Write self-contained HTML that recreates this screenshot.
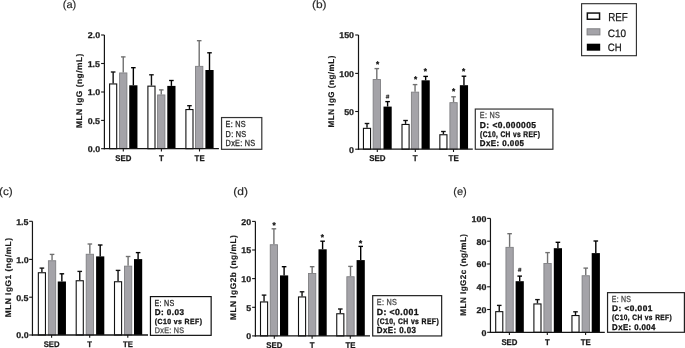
<!DOCTYPE html>
<html><head><meta charset="utf-8"><title>MLN IgG figure</title>
<style>
html,body{margin:0;padding:0;background:#fff;}
body{width:685px;height:348px;overflow:hidden;}
svg{display:block;font-family:"Liberation Sans", sans-serif;text-rendering:geometricPrecision;will-change:transform;}
</style></head>
<body>
<svg width="685" height="348" viewBox="0 0 685 348">
<rect x="0" y="0" width="685" height="348" fill="#fff"/>
<line x1="113.15" y1="71.90" x2="113.15" y2="83.40" stroke="#111" stroke-width="1.4"/>
<line x1="110.85" y1="72.00" x2="115.45" y2="72.00" stroke="#111" stroke-width="1.35"/>
<rect x="109.60" y="83.95" width="7.10" height="64.75" fill="#fff" stroke="#111" stroke-width="1.1"/>
<line x1="123.25" y1="56.80" x2="123.25" y2="72.50" stroke="#707070" stroke-width="1.4"/>
<line x1="120.95" y1="56.90" x2="125.55" y2="56.90" stroke="#707070" stroke-width="1.35"/>
<rect x="119.60" y="72.95" width="7.30" height="75.75" fill="#a4a3a8" stroke="#7f7f82" stroke-width="0.9"/>
<line x1="133.35" y1="67.60" x2="133.35" y2="85.30" stroke="#000" stroke-width="1.4"/>
<line x1="131.05" y1="67.70" x2="135.65" y2="67.70" stroke="#000" stroke-width="1.35"/>
<rect x="129.25" y="85.30" width="8.20" height="63.40" fill="#000"/>
<line x1="151.45" y1="74.70" x2="151.45" y2="85.60" stroke="#111" stroke-width="1.4"/>
<line x1="149.15" y1="74.80" x2="153.75" y2="74.80" stroke="#111" stroke-width="1.35"/>
<rect x="147.90" y="86.15" width="7.10" height="62.55" fill="#fff" stroke="#111" stroke-width="1.1"/>
<line x1="161.25" y1="89.80" x2="161.25" y2="94.50" stroke="#707070" stroke-width="1.4"/>
<line x1="158.95" y1="89.90" x2="163.55" y2="89.90" stroke="#707070" stroke-width="1.35"/>
<rect x="157.60" y="94.95" width="7.30" height="53.75" fill="#a4a3a8" stroke="#7f7f82" stroke-width="0.9"/>
<line x1="171.40" y1="80.40" x2="171.40" y2="85.90" stroke="#000" stroke-width="1.4"/>
<line x1="169.10" y1="80.50" x2="173.70" y2="80.50" stroke="#000" stroke-width="1.35"/>
<rect x="167.30" y="85.90" width="8.20" height="62.80" fill="#000"/>
<line x1="189.45" y1="105.60" x2="189.45" y2="109.00" stroke="#111" stroke-width="1.4"/>
<line x1="187.15" y1="105.70" x2="191.75" y2="105.70" stroke="#111" stroke-width="1.35"/>
<rect x="185.90" y="109.55" width="7.10" height="39.15" fill="#fff" stroke="#111" stroke-width="1.1"/>
<line x1="199.20" y1="40.60" x2="199.20" y2="65.90" stroke="#707070" stroke-width="1.4"/>
<line x1="196.90" y1="40.70" x2="201.50" y2="40.70" stroke="#707070" stroke-width="1.35"/>
<rect x="195.55" y="66.35" width="7.30" height="82.35" fill="#a4a3a8" stroke="#7f7f82" stroke-width="0.9"/>
<line x1="209.50" y1="52.70" x2="209.50" y2="70.00" stroke="#000" stroke-width="1.4"/>
<line x1="207.20" y1="52.80" x2="211.80" y2="52.80" stroke="#000" stroke-width="1.35"/>
<rect x="205.40" y="70.00" width="8.20" height="78.70" fill="#000"/>
<line x1="104.40" y1="35.00" x2="104.40" y2="149.30" stroke="#151515" stroke-width="1.2"/>
<line x1="103.80" y1="148.70" x2="218.90" y2="148.70" stroke="#151515" stroke-width="1.3"/>
<line x1="101.10" y1="35.00" x2="104.40" y2="35.00" stroke="#151515" stroke-width="1.1"/>
<text transform="translate(87.78,38.32) scale(1.060,1)" font-size="8.40" font-weight="bold" fill="#1a1a1a" stroke="#1a1a1a" stroke-width="0.25">2.0</text>
<line x1="101.10" y1="63.50" x2="104.40" y2="63.50" stroke="#151515" stroke-width="1.1"/>
<text transform="translate(87.67,66.82) scale(1.060,1)" font-size="8.40" font-weight="bold" fill="#1a1a1a" stroke="#1a1a1a" stroke-width="0.25">1.5</text>
<line x1="101.10" y1="92.00" x2="104.40" y2="92.00" stroke="#151515" stroke-width="1.1"/>
<text transform="translate(87.78,95.32) scale(1.060,1)" font-size="8.40" font-weight="bold" fill="#1a1a1a" stroke="#1a1a1a" stroke-width="0.25">1.0</text>
<line x1="101.10" y1="120.40" x2="104.40" y2="120.40" stroke="#151515" stroke-width="1.1"/>
<text transform="translate(87.67,123.72) scale(1.060,1)" font-size="8.40" font-weight="bold" fill="#1a1a1a" stroke="#1a1a1a" stroke-width="0.25">0.5</text>
<line x1="101.10" y1="148.70" x2="104.40" y2="148.70" stroke="#151515" stroke-width="1.1"/>
<text transform="translate(87.78,152.02) scale(1.060,1)" font-size="8.40" font-weight="bold" fill="#1a1a1a" stroke="#1a1a1a" stroke-width="0.25">0.0</text>
<line x1="123.30" y1="148.70" x2="123.30" y2="151.50" stroke="#151515" stroke-width="1.1"/>
<line x1="161.40" y1="148.70" x2="161.40" y2="151.50" stroke="#151515" stroke-width="1.1"/>
<line x1="199.50" y1="148.70" x2="199.50" y2="151.50" stroke="#151515" stroke-width="1.1"/>
<text transform="translate(115.29,160.92) scale(0.940,1)" font-size="8.33" font-weight="bold" fill="#1a1a1a" stroke="#1a1a1a" stroke-width="0.25">SED</text>
<text transform="translate(159.01,160.92) scale(0.940,1)" font-size="8.33" font-weight="bold" fill="#1a1a1a" stroke="#1a1a1a" stroke-width="0.25">T</text>
<text transform="translate(194.61,160.92) scale(0.940,1)" font-size="8.33" font-weight="bold" fill="#1a1a1a" stroke="#1a1a1a" stroke-width="0.25">TE</text>
<line x1="367.00" y1="123.40" x2="367.00" y2="127.80" stroke="#111" stroke-width="1.4"/>
<line x1="364.70" y1="123.50" x2="369.30" y2="123.50" stroke="#111" stroke-width="1.35"/>
<rect x="363.45" y="128.35" width="7.10" height="20.85" fill="#fff" stroke="#111" stroke-width="1.1"/>
<line x1="376.80" y1="68.50" x2="376.80" y2="79.10" stroke="#707070" stroke-width="1.4"/>
<line x1="374.50" y1="68.60" x2="379.10" y2="68.60" stroke="#707070" stroke-width="1.35"/>
<rect x="373.15" y="79.55" width="7.30" height="69.65" fill="#a4a3a8" stroke="#7f7f82" stroke-width="0.9"/>
<line x1="387.60" y1="101.50" x2="387.60" y2="106.60" stroke="#000" stroke-width="1.4"/>
<line x1="385.30" y1="101.60" x2="389.90" y2="101.60" stroke="#000" stroke-width="1.35"/>
<rect x="383.50" y="106.60" width="8.20" height="42.60" fill="#000"/>
<line x1="405.55" y1="120.40" x2="405.55" y2="123.90" stroke="#111" stroke-width="1.4"/>
<line x1="403.25" y1="120.50" x2="407.85" y2="120.50" stroke="#111" stroke-width="1.35"/>
<rect x="402.00" y="124.45" width="7.10" height="24.75" fill="#fff" stroke="#111" stroke-width="1.1"/>
<line x1="415.05" y1="84.50" x2="415.05" y2="91.70" stroke="#707070" stroke-width="1.4"/>
<line x1="412.75" y1="84.60" x2="417.35" y2="84.60" stroke="#707070" stroke-width="1.35"/>
<rect x="411.40" y="92.15" width="7.30" height="57.05" fill="#a4a3a8" stroke="#7f7f82" stroke-width="0.9"/>
<line x1="425.65" y1="76.30" x2="425.65" y2="80.30" stroke="#000" stroke-width="1.4"/>
<line x1="423.35" y1="76.40" x2="427.95" y2="76.40" stroke="#000" stroke-width="1.35"/>
<rect x="421.55" y="80.30" width="8.20" height="68.90" fill="#000"/>
<line x1="443.40" y1="131.40" x2="443.40" y2="134.20" stroke="#111" stroke-width="1.4"/>
<line x1="441.10" y1="131.50" x2="445.70" y2="131.50" stroke="#111" stroke-width="1.35"/>
<rect x="439.85" y="134.75" width="7.10" height="14.45" fill="#fff" stroke="#111" stroke-width="1.1"/>
<line x1="453.55" y1="96.70" x2="453.55" y2="102.20" stroke="#707070" stroke-width="1.4"/>
<line x1="451.25" y1="96.80" x2="455.85" y2="96.80" stroke="#707070" stroke-width="1.35"/>
<rect x="449.90" y="102.65" width="7.30" height="46.55" fill="#a4a3a8" stroke="#7f7f82" stroke-width="0.9"/>
<line x1="463.95" y1="76.10" x2="463.95" y2="85.20" stroke="#000" stroke-width="1.4"/>
<line x1="461.65" y1="76.20" x2="466.25" y2="76.20" stroke="#000" stroke-width="1.35"/>
<rect x="459.85" y="85.20" width="8.20" height="64.00" fill="#000"/>
<line x1="358.50" y1="35.00" x2="358.50" y2="149.80" stroke="#151515" stroke-width="1.2"/>
<line x1="357.90" y1="149.20" x2="472.80" y2="149.20" stroke="#151515" stroke-width="1.3"/>
<line x1="355.20" y1="35.00" x2="358.50" y2="35.00" stroke="#151515" stroke-width="1.1"/>
<text transform="translate(339.21,38.32) scale(1.060,1)" font-size="8.40" font-weight="bold" fill="#1a1a1a" stroke="#1a1a1a" stroke-width="0.25">150</text>
<line x1="355.20" y1="73.40" x2="358.50" y2="73.40" stroke="#151515" stroke-width="1.1"/>
<text transform="translate(339.21,76.72) scale(1.060,1)" font-size="8.40" font-weight="bold" fill="#1a1a1a" stroke="#1a1a1a" stroke-width="0.25">100</text>
<line x1="355.20" y1="111.50" x2="358.50" y2="111.50" stroke="#151515" stroke-width="1.1"/>
<text transform="translate(344.17,114.82) scale(1.060,1)" font-size="8.40" font-weight="bold" fill="#1a1a1a" stroke="#1a1a1a" stroke-width="0.25">50</text>
<line x1="355.20" y1="149.20" x2="358.50" y2="149.20" stroke="#151515" stroke-width="1.1"/>
<text transform="translate(349.11,152.52) scale(1.060,1)" font-size="8.40" font-weight="bold" fill="#1a1a1a" stroke="#1a1a1a" stroke-width="0.25">0</text>
<line x1="377.30" y1="149.20" x2="377.30" y2="152.00" stroke="#151515" stroke-width="1.1"/>
<line x1="415.30" y1="149.20" x2="415.30" y2="152.00" stroke="#151515" stroke-width="1.1"/>
<line x1="453.50" y1="149.20" x2="453.50" y2="152.00" stroke="#151515" stroke-width="1.1"/>
<text transform="translate(369.15,161.22) scale(0.940,1)" font-size="8.47" font-weight="bold" fill="#1a1a1a" stroke="#1a1a1a" stroke-width="0.25">SED</text>
<text transform="translate(412.87,161.22) scale(0.940,1)" font-size="8.47" font-weight="bold" fill="#1a1a1a" stroke="#1a1a1a" stroke-width="0.25">T</text>
<text transform="translate(448.53,161.22) scale(0.940,1)" font-size="8.47" font-weight="bold" fill="#1a1a1a" stroke="#1a1a1a" stroke-width="0.25">TE</text>
<text transform="translate(375.90,66.51) scale(1.000,1)" font-size="8.20" font-weight="bold" fill="#111" stroke="#111" stroke-width="0.3">*</text>
<path d="M387.20,94.60 L386.70,98.60 M388.60,94.60 L388.10,98.60 M385.90,95.90 H389.40 M385.70,97.40 H389.20" stroke="#262626" stroke-width="0.8" fill="none"/>
<text transform="translate(414.00,81.56) scale(1.000,1)" font-size="8.20" font-weight="bold" fill="#111" stroke="#111" stroke-width="0.3">*</text>
<text transform="translate(423.80,73.71) scale(1.000,1)" font-size="8.20" font-weight="bold" fill="#111" stroke="#111" stroke-width="0.3">*</text>
<text transform="translate(451.90,94.31) scale(1.000,1)" font-size="8.20" font-weight="bold" fill="#111" stroke="#111" stroke-width="0.3">*</text>
<text transform="translate(461.90,73.51) scale(1.000,1)" font-size="8.20" font-weight="bold" fill="#111" stroke="#111" stroke-width="0.3">*</text>
<line x1="41.90" y1="268.00" x2="41.90" y2="272.20" stroke="#111" stroke-width="1.4"/>
<line x1="39.60" y1="268.10" x2="44.20" y2="268.10" stroke="#111" stroke-width="1.35"/>
<rect x="38.35" y="272.75" width="7.10" height="62.25" fill="#fff" stroke="#111" stroke-width="1.1"/>
<line x1="52.05" y1="254.30" x2="52.05" y2="260.30" stroke="#707070" stroke-width="1.4"/>
<line x1="49.75" y1="254.40" x2="54.35" y2="254.40" stroke="#707070" stroke-width="1.35"/>
<rect x="48.40" y="260.75" width="7.30" height="74.25" fill="#a4a3a8" stroke="#7f7f82" stroke-width="0.9"/>
<line x1="61.85" y1="273.70" x2="61.85" y2="281.50" stroke="#000" stroke-width="1.4"/>
<line x1="59.55" y1="273.80" x2="64.15" y2="273.80" stroke="#000" stroke-width="1.35"/>
<rect x="57.75" y="281.50" width="8.20" height="53.50" fill="#000"/>
<line x1="79.75" y1="271.30" x2="79.75" y2="280.20" stroke="#111" stroke-width="1.4"/>
<line x1="77.45" y1="271.40" x2="82.05" y2="271.40" stroke="#111" stroke-width="1.35"/>
<rect x="76.20" y="280.75" width="7.10" height="54.25" fill="#fff" stroke="#111" stroke-width="1.1"/>
<line x1="89.85" y1="243.90" x2="89.85" y2="253.80" stroke="#707070" stroke-width="1.4"/>
<line x1="87.55" y1="244.00" x2="92.15" y2="244.00" stroke="#707070" stroke-width="1.35"/>
<rect x="86.20" y="254.25" width="7.30" height="80.75" fill="#a4a3a8" stroke="#7f7f82" stroke-width="0.9"/>
<line x1="100.20" y1="244.90" x2="100.20" y2="256.40" stroke="#000" stroke-width="1.4"/>
<line x1="97.90" y1="245.00" x2="102.50" y2="245.00" stroke="#000" stroke-width="1.35"/>
<rect x="96.10" y="256.40" width="8.20" height="78.60" fill="#000"/>
<line x1="118.05" y1="270.30" x2="118.05" y2="281.20" stroke="#111" stroke-width="1.4"/>
<line x1="115.75" y1="270.40" x2="120.35" y2="270.40" stroke="#111" stroke-width="1.35"/>
<rect x="114.50" y="281.75" width="7.10" height="53.25" fill="#fff" stroke="#111" stroke-width="1.1"/>
<line x1="128.10" y1="256.40" x2="128.10" y2="265.70" stroke="#707070" stroke-width="1.4"/>
<line x1="125.80" y1="256.50" x2="130.40" y2="256.50" stroke="#707070" stroke-width="1.35"/>
<rect x="124.45" y="266.15" width="7.30" height="68.85" fill="#a4a3a8" stroke="#7f7f82" stroke-width="0.9"/>
<line x1="138.10" y1="252.50" x2="138.10" y2="259.10" stroke="#000" stroke-width="1.4"/>
<line x1="135.80" y1="252.60" x2="140.40" y2="252.60" stroke="#000" stroke-width="1.35"/>
<rect x="134.00" y="259.10" width="8.20" height="75.90" fill="#000"/>
<line x1="32.45" y1="221.30" x2="32.45" y2="335.60" stroke="#151515" stroke-width="1.2"/>
<line x1="31.85" y1="335.00" x2="148.00" y2="335.00" stroke="#151515" stroke-width="1.3"/>
<line x1="29.15" y1="221.30" x2="32.45" y2="221.30" stroke="#151515" stroke-width="1.1"/>
<text transform="translate(16.17,224.62) scale(1.060,1)" font-size="8.40" font-weight="bold" fill="#1a1a1a" stroke="#1a1a1a" stroke-width="0.25">1.5</text>
<line x1="29.15" y1="259.40" x2="32.45" y2="259.40" stroke="#151515" stroke-width="1.1"/>
<text transform="translate(16.28,262.72) scale(1.060,1)" font-size="8.40" font-weight="bold" fill="#1a1a1a" stroke="#1a1a1a" stroke-width="0.25">1.0</text>
<line x1="29.15" y1="297.20" x2="32.45" y2="297.20" stroke="#151515" stroke-width="1.1"/>
<text transform="translate(16.17,300.52) scale(1.060,1)" font-size="8.40" font-weight="bold" fill="#1a1a1a" stroke="#1a1a1a" stroke-width="0.25">0.5</text>
<line x1="29.15" y1="335.00" x2="32.45" y2="335.00" stroke="#151515" stroke-width="1.1"/>
<text transform="translate(16.28,338.32) scale(1.060,1)" font-size="8.40" font-weight="bold" fill="#1a1a1a" stroke="#1a1a1a" stroke-width="0.25">0.0</text>
<line x1="51.60" y1="335.00" x2="51.60" y2="337.80" stroke="#151515" stroke-width="1.1"/>
<line x1="89.70" y1="335.00" x2="89.70" y2="337.80" stroke="#151515" stroke-width="1.1"/>
<line x1="127.80" y1="335.00" x2="127.80" y2="337.80" stroke="#151515" stroke-width="1.1"/>
<text transform="translate(43.73,347.22) scale(0.940,1)" font-size="8.19" font-weight="bold" fill="#1a1a1a" stroke="#1a1a1a" stroke-width="0.25">SED</text>
<text transform="translate(87.35,347.22) scale(0.940,1)" font-size="8.19" font-weight="bold" fill="#1a1a1a" stroke="#1a1a1a" stroke-width="0.25">T</text>
<text transform="translate(123.00,347.22) scale(0.940,1)" font-size="8.19" font-weight="bold" fill="#1a1a1a" stroke="#1a1a1a" stroke-width="0.25">TE</text>
<line x1="264.05" y1="295.00" x2="264.05" y2="301.40" stroke="#111" stroke-width="1.4"/>
<line x1="261.75" y1="295.10" x2="266.35" y2="295.10" stroke="#111" stroke-width="1.35"/>
<rect x="260.50" y="301.95" width="7.10" height="33.95" fill="#fff" stroke="#111" stroke-width="1.1"/>
<line x1="273.90" y1="228.70" x2="273.90" y2="244.30" stroke="#707070" stroke-width="1.4"/>
<line x1="271.60" y1="228.80" x2="276.20" y2="228.80" stroke="#707070" stroke-width="1.35"/>
<rect x="270.25" y="244.75" width="7.30" height="91.15" fill="#a4a3a8" stroke="#7f7f82" stroke-width="0.9"/>
<line x1="284.10" y1="266.60" x2="284.10" y2="275.40" stroke="#000" stroke-width="1.4"/>
<line x1="281.80" y1="266.70" x2="286.40" y2="266.70" stroke="#000" stroke-width="1.35"/>
<rect x="280.00" y="275.40" width="8.20" height="60.50" fill="#000"/>
<line x1="302.05" y1="291.70" x2="302.05" y2="296.40" stroke="#111" stroke-width="1.4"/>
<line x1="299.75" y1="291.80" x2="304.35" y2="291.80" stroke="#111" stroke-width="1.35"/>
<rect x="298.50" y="296.95" width="7.10" height="38.95" fill="#fff" stroke="#111" stroke-width="1.1"/>
<line x1="312.15" y1="266.60" x2="312.15" y2="273.10" stroke="#707070" stroke-width="1.4"/>
<line x1="309.85" y1="266.70" x2="314.45" y2="266.70" stroke="#707070" stroke-width="1.35"/>
<rect x="308.50" y="273.55" width="7.30" height="62.35" fill="#a4a3a8" stroke="#7f7f82" stroke-width="0.9"/>
<line x1="322.60" y1="241.10" x2="322.60" y2="249.30" stroke="#000" stroke-width="1.4"/>
<line x1="320.30" y1="241.20" x2="324.90" y2="241.20" stroke="#000" stroke-width="1.35"/>
<rect x="318.50" y="249.30" width="8.20" height="86.60" fill="#000"/>
<line x1="340.30" y1="308.90" x2="340.30" y2="313.20" stroke="#111" stroke-width="1.4"/>
<line x1="338.00" y1="309.00" x2="342.60" y2="309.00" stroke="#111" stroke-width="1.35"/>
<rect x="336.75" y="313.75" width="7.10" height="22.15" fill="#fff" stroke="#111" stroke-width="1.1"/>
<line x1="350.50" y1="266.30" x2="350.50" y2="276.30" stroke="#707070" stroke-width="1.4"/>
<line x1="348.20" y1="266.40" x2="352.80" y2="266.40" stroke="#707070" stroke-width="1.35"/>
<rect x="346.85" y="276.75" width="7.30" height="59.15" fill="#a4a3a8" stroke="#7f7f82" stroke-width="0.9"/>
<line x1="360.70" y1="246.30" x2="360.70" y2="260.10" stroke="#000" stroke-width="1.4"/>
<line x1="358.40" y1="246.40" x2="363.00" y2="246.40" stroke="#000" stroke-width="1.35"/>
<rect x="356.60" y="260.10" width="8.20" height="75.80" fill="#000"/>
<line x1="255.40" y1="221.40" x2="255.40" y2="336.50" stroke="#151515" stroke-width="1.2"/>
<line x1="254.80" y1="335.90" x2="370.00" y2="335.90" stroke="#151515" stroke-width="1.3"/>
<line x1="252.10" y1="221.40" x2="255.40" y2="221.40" stroke="#151515" stroke-width="1.1"/>
<text transform="translate(241.37,224.72) scale(1.060,1)" font-size="8.40" font-weight="bold" fill="#1a1a1a" stroke="#1a1a1a" stroke-width="0.25">20</text>
<line x1="252.10" y1="250.00" x2="255.40" y2="250.00" stroke="#151515" stroke-width="1.1"/>
<text transform="translate(241.26,253.32) scale(1.060,1)" font-size="8.40" font-weight="bold" fill="#1a1a1a" stroke="#1a1a1a" stroke-width="0.25">15</text>
<line x1="252.10" y1="278.60" x2="255.40" y2="278.60" stroke="#151515" stroke-width="1.1"/>
<text transform="translate(241.37,281.92) scale(1.060,1)" font-size="8.40" font-weight="bold" fill="#1a1a1a" stroke="#1a1a1a" stroke-width="0.25">10</text>
<line x1="252.10" y1="307.30" x2="255.40" y2="307.30" stroke="#151515" stroke-width="1.1"/>
<text transform="translate(246.20,310.62) scale(1.060,1)" font-size="8.40" font-weight="bold" fill="#1a1a1a" stroke="#1a1a1a" stroke-width="0.25">5</text>
<line x1="252.10" y1="335.90" x2="255.40" y2="335.90" stroke="#151515" stroke-width="1.1"/>
<text transform="translate(246.31,339.22) scale(1.060,1)" font-size="8.40" font-weight="bold" fill="#1a1a1a" stroke="#1a1a1a" stroke-width="0.25">0</text>
<line x1="274.30" y1="335.90" x2="274.30" y2="338.70" stroke="#151515" stroke-width="1.1"/>
<line x1="312.10" y1="335.90" x2="312.10" y2="338.70" stroke="#151515" stroke-width="1.1"/>
<line x1="350.30" y1="335.90" x2="350.30" y2="338.70" stroke="#151515" stroke-width="1.1"/>
<text transform="translate(266.29,347.92) scale(0.940,1)" font-size="8.33" font-weight="bold" fill="#1a1a1a" stroke="#1a1a1a" stroke-width="0.25">SED</text>
<text transform="translate(309.71,347.92) scale(0.940,1)" font-size="8.33" font-weight="bold" fill="#1a1a1a" stroke="#1a1a1a" stroke-width="0.25">T</text>
<text transform="translate(345.41,347.92) scale(0.940,1)" font-size="8.33" font-weight="bold" fill="#1a1a1a" stroke="#1a1a1a" stroke-width="0.25">TE</text>
<text transform="translate(272.50,227.61) scale(1.000,1)" font-size="8.20" font-weight="bold" fill="#111" stroke="#111" stroke-width="0.3">*</text>
<text transform="translate(320.70,240.01) scale(1.000,1)" font-size="8.20" font-weight="bold" fill="#111" stroke="#111" stroke-width="0.3">*</text>
<text transform="translate(359.00,245.81) scale(1.000,1)" font-size="8.20" font-weight="bold" fill="#111" stroke="#111" stroke-width="0.3">*</text>
<line x1="499.25" y1="305.30" x2="499.25" y2="311.10" stroke="#111" stroke-width="1.4"/>
<line x1="496.95" y1="305.40" x2="501.55" y2="305.40" stroke="#111" stroke-width="1.35"/>
<rect x="495.70" y="311.65" width="7.10" height="20.65" fill="#fff" stroke="#111" stroke-width="1.1"/>
<line x1="509.60" y1="233.60" x2="509.60" y2="246.90" stroke="#707070" stroke-width="1.4"/>
<line x1="507.30" y1="233.70" x2="511.90" y2="233.70" stroke="#707070" stroke-width="1.35"/>
<rect x="505.95" y="247.35" width="7.30" height="84.95" fill="#a4a3a8" stroke="#7f7f82" stroke-width="0.9"/>
<line x1="519.70" y1="276.00" x2="519.70" y2="281.20" stroke="#000" stroke-width="1.4"/>
<line x1="517.40" y1="276.10" x2="522.00" y2="276.10" stroke="#000" stroke-width="1.35"/>
<rect x="515.60" y="281.20" width="8.20" height="51.10" fill="#000"/>
<line x1="537.45" y1="299.50" x2="537.45" y2="303.40" stroke="#111" stroke-width="1.4"/>
<line x1="535.15" y1="299.60" x2="539.75" y2="299.60" stroke="#111" stroke-width="1.35"/>
<rect x="533.90" y="303.95" width="7.10" height="28.35" fill="#fff" stroke="#111" stroke-width="1.1"/>
<line x1="547.55" y1="252.50" x2="547.55" y2="263.00" stroke="#707070" stroke-width="1.4"/>
<line x1="545.25" y1="252.60" x2="549.85" y2="252.60" stroke="#707070" stroke-width="1.35"/>
<rect x="543.90" y="263.45" width="7.30" height="68.85" fill="#a4a3a8" stroke="#7f7f82" stroke-width="0.9"/>
<line x1="557.90" y1="242.20" x2="557.90" y2="248.20" stroke="#000" stroke-width="1.4"/>
<line x1="555.60" y1="242.30" x2="560.20" y2="242.30" stroke="#000" stroke-width="1.35"/>
<rect x="553.80" y="248.20" width="8.20" height="84.10" fill="#000"/>
<line x1="575.50" y1="311.70" x2="575.50" y2="315.00" stroke="#111" stroke-width="1.4"/>
<line x1="573.20" y1="311.80" x2="577.80" y2="311.80" stroke="#111" stroke-width="1.35"/>
<rect x="571.95" y="315.55" width="7.10" height="16.75" fill="#fff" stroke="#111" stroke-width="1.1"/>
<line x1="585.75" y1="268.00" x2="585.75" y2="275.30" stroke="#707070" stroke-width="1.4"/>
<line x1="583.45" y1="268.10" x2="588.05" y2="268.10" stroke="#707070" stroke-width="1.35"/>
<rect x="582.10" y="275.75" width="7.30" height="56.55" fill="#a4a3a8" stroke="#7f7f82" stroke-width="0.9"/>
<line x1="595.80" y1="240.90" x2="595.80" y2="253.10" stroke="#000" stroke-width="1.4"/>
<line x1="593.50" y1="241.00" x2="598.10" y2="241.00" stroke="#000" stroke-width="1.35"/>
<rect x="591.70" y="253.10" width="8.20" height="79.20" fill="#000"/>
<line x1="490.45" y1="218.40" x2="490.45" y2="332.90" stroke="#151515" stroke-width="1.2"/>
<line x1="489.85" y1="332.30" x2="604.80" y2="332.30" stroke="#151515" stroke-width="1.3"/>
<line x1="487.15" y1="218.40" x2="490.45" y2="218.40" stroke="#151515" stroke-width="1.1"/>
<text transform="translate(471.61,221.72) scale(1.060,1)" font-size="8.40" font-weight="bold" fill="#1a1a1a" stroke="#1a1a1a" stroke-width="0.25">100</text>
<line x1="487.15" y1="241.20" x2="490.45" y2="241.20" stroke="#151515" stroke-width="1.1"/>
<text transform="translate(476.57,244.52) scale(1.060,1)" font-size="8.40" font-weight="bold" fill="#1a1a1a" stroke="#1a1a1a" stroke-width="0.25">80</text>
<line x1="487.15" y1="264.00" x2="490.45" y2="264.00" stroke="#151515" stroke-width="1.1"/>
<text transform="translate(476.57,267.32) scale(1.060,1)" font-size="8.40" font-weight="bold" fill="#1a1a1a" stroke="#1a1a1a" stroke-width="0.25">60</text>
<line x1="487.15" y1="286.80" x2="490.45" y2="286.80" stroke="#151515" stroke-width="1.1"/>
<text transform="translate(476.57,290.12) scale(1.060,1)" font-size="8.40" font-weight="bold" fill="#1a1a1a" stroke="#1a1a1a" stroke-width="0.25">40</text>
<line x1="487.15" y1="309.50" x2="490.45" y2="309.50" stroke="#151515" stroke-width="1.1"/>
<text transform="translate(476.57,312.82) scale(1.060,1)" font-size="8.40" font-weight="bold" fill="#1a1a1a" stroke="#1a1a1a" stroke-width="0.25">20</text>
<line x1="487.15" y1="332.30" x2="490.45" y2="332.30" stroke="#151515" stroke-width="1.1"/>
<text transform="translate(481.51,335.62) scale(1.060,1)" font-size="8.40" font-weight="bold" fill="#1a1a1a" stroke="#1a1a1a" stroke-width="0.25">0</text>
<line x1="509.40" y1="332.30" x2="509.40" y2="335.10" stroke="#151515" stroke-width="1.1"/>
<line x1="547.30" y1="332.30" x2="547.30" y2="335.10" stroke="#151515" stroke-width="1.1"/>
<line x1="585.60" y1="332.30" x2="585.60" y2="335.10" stroke="#151515" stroke-width="1.1"/>
<text transform="translate(501.39,344.52) scale(0.940,1)" font-size="8.33" font-weight="bold" fill="#1a1a1a" stroke="#1a1a1a" stroke-width="0.25">SED</text>
<text transform="translate(544.91,344.52) scale(0.940,1)" font-size="8.33" font-weight="bold" fill="#1a1a1a" stroke="#1a1a1a" stroke-width="0.25">T</text>
<text transform="translate(580.71,344.52) scale(0.940,1)" font-size="8.33" font-weight="bold" fill="#1a1a1a" stroke="#1a1a1a" stroke-width="0.25">TE</text>
<path d="M519.30,267.80 L518.80,271.80 M520.70,267.80 L520.20,271.80 M518.00,269.10 H521.50 M517.80,270.60 H521.30" stroke="#262626" stroke-width="0.8" fill="none"/>
<text transform="translate(81.90,128.06) rotate(-90) scale(1.020,1)" font-size="8.20" font-weight="bold" fill="#1a1a1a" stroke="#1a1a1a" stroke-width="0.2" letter-spacing="0.5">MLN IgG (ng/mL)</text>
<text transform="translate(333.50,127.44) rotate(-90) scale(0.984,1)" font-size="8.20" font-weight="bold" fill="#1a1a1a" stroke="#1a1a1a" stroke-width="0.2" letter-spacing="0.5">MLN IgG (ng/mL)</text>
<text transform="translate(10.60,317.26) rotate(-90) scale(1.016,1)" font-size="8.20" font-weight="bold" fill="#1a1a1a" stroke="#1a1a1a" stroke-width="0.2" letter-spacing="0.5">MLN IgG1 (ng/mL)</text>
<text transform="translate(235.80,320.06) rotate(-90) scale(1.016,1)" font-size="8.20" font-weight="bold" fill="#1a1a1a" stroke="#1a1a1a" stroke-width="0.2" letter-spacing="0.5">MLN IgG2b (ng/mL)</text>
<text transform="translate(465.80,315.74) rotate(-90) scale(0.984,1)" font-size="8.20" font-weight="bold" fill="#1a1a1a" stroke="#1a1a1a" stroke-width="0.2" letter-spacing="0.5">MLN IgG2c (ng/mL)</text>
<text transform="translate(62.71,8.00) scale(1.040,1)" font-size="10.60" font-weight="normal" fill="#2a2a2a" stroke="#2a2a2a" stroke-width="0.15">(a)</text>
<text transform="translate(311.95,8.00) scale(1.126,1)" font-size="10.60" font-weight="normal" fill="#2a2a2a" stroke="#2a2a2a" stroke-width="0.15">(b)</text>
<text transform="translate(-1.04,194.90) scale(1.116,1)" font-size="10.60" font-weight="normal" fill="#2a2a2a" stroke="#2a2a2a" stroke-width="0.15">(c)</text>
<text transform="translate(233.35,194.90) scale(1.135,1)" font-size="10.60" font-weight="normal" fill="#2a2a2a" stroke="#2a2a2a" stroke-width="0.15">(d)</text>
<text transform="translate(453.21,194.90) scale(1.049,1)" font-size="10.60" font-weight="normal" fill="#2a2a2a" stroke="#2a2a2a" stroke-width="0.15">(e)</text>
<rect x="221.55" y="117.55" width="40.25" height="31.75" fill="#fff" stroke="#333" stroke-width="1.2"/>
<text transform="translate(225.60,127.01) scale(0.837,1)" font-size="8.76" font-weight="normal" fill="#2a2a2a" stroke="#2a2a2a" stroke-width="0.3" letter-spacing="0.3">E: NS</text>
<text transform="translate(225.60,136.51) scale(0.850,1)" font-size="8.62" font-weight="normal" fill="#2a2a2a" stroke="#2a2a2a" stroke-width="0.3" letter-spacing="0.3">D: NS</text>
<text transform="translate(225.59,146.21) scale(0.825,1)" font-size="8.90" font-weight="normal" fill="#2a2a2a" stroke="#2a2a2a" stroke-width="0.3" letter-spacing="0.3">DxE: NS</text>
<rect x="475.30" y="109.05" width="77.60" height="40.20" fill="#fff" stroke="#333" stroke-width="1.2"/>
<text transform="translate(479.80,118.41) scale(0.828,1)" font-size="8.76" font-weight="normal" fill="#4a4a4a" stroke="#4a4a4a" stroke-width="0.3" letter-spacing="0.3">E: NS</text>
<text transform="translate(479.83,127.91) scale(0.979,1)" font-size="8.62" font-weight="bold" fill="#111" stroke="#111" stroke-width="0.3" letter-spacing="0.45">D: &lt;0.000005</text>
<text transform="translate(480.07,136.92) scale(0.815,1)" font-size="8.19" font-weight="bold" fill="#111" stroke="#111" stroke-width="0.3" letter-spacing="0.45">(C10, CH vs REF)</text>
<text transform="translate(479.86,146.42) scale(0.954,1)" font-size="8.33" font-weight="bold" fill="#111" stroke="#111" stroke-width="0.3" letter-spacing="0.45">DxE: 0.005</text>
<rect x="150.45" y="296.60" width="60.70" height="38.75" fill="#fff" stroke="#111" stroke-width="1.2"/>
<text transform="translate(154.61,305.71) scale(0.811,1)" font-size="8.76" font-weight="normal" fill="#2a2a2a" stroke="#2a2a2a" stroke-width="0.3" letter-spacing="0.3">E: NS</text>
<text transform="translate(154.65,315.22) scale(0.977,1)" font-size="8.33" font-weight="bold" fill="#111" stroke="#111" stroke-width="0.3" letter-spacing="0.45">D: 0.03</text>
<text transform="translate(154.86,324.03) scale(0.921,1)" font-size="7.49" font-weight="bold" fill="#111" stroke="#111" stroke-width="0.3" letter-spacing="0.45">(C10 vs REF)</text>
<text transform="translate(154.81,333.42) scale(0.895,1)" font-size="8.05" font-weight="normal" fill="#4a4a4a" stroke="#4a4a4a" stroke-width="0.3" letter-spacing="0.3">DxE: NS</text>
<rect x="372.70" y="295.65" width="68.95" height="40.30" fill="#fff" stroke="#222" stroke-width="1.2"/>
<text transform="translate(376.80,304.71) scale(0.828,1)" font-size="8.76" font-weight="normal" fill="#4a4a4a" stroke="#4a4a4a" stroke-width="0.3" letter-spacing="0.3">E: NS</text>
<text transform="translate(376.71,315.01) scale(0.977,1)" font-size="8.90" font-weight="bold" fill="#111" stroke="#111" stroke-width="0.3" letter-spacing="0.45">D: &lt;0.001</text>
<text transform="translate(376.96,324.22) scale(0.852,1)" font-size="8.05" font-weight="bold" fill="#111" stroke="#111" stroke-width="0.3" letter-spacing="0.45">(C10, CH vs REF)</text>
<text transform="translate(376.76,333.11) scale(0.911,1)" font-size="8.76" font-weight="bold" fill="#111" stroke="#111" stroke-width="0.3" letter-spacing="0.45">DxE: 0.03</text>
<rect x="607.55" y="292.65" width="76.85" height="39.65" fill="#fff" stroke="#222" stroke-width="1.2"/>
<text transform="translate(611.82,301.91) scale(0.798,1)" font-size="8.76" font-weight="normal" fill="#4a4a4a" stroke="#4a4a4a" stroke-width="0.3" letter-spacing="0.3">E: NS</text>
<text transform="translate(612.04,311.22) scale(1.029,1)" font-size="8.05" font-weight="bold" fill="#111" stroke="#111" stroke-width="0.3" letter-spacing="0.45">D: &lt;0.001</text>
<text transform="translate(611.97,320.32) scale(0.851,1)" font-size="7.77" font-weight="bold" fill="#111" stroke="#111" stroke-width="0.3" letter-spacing="0.45">(C10, CH vs REF)</text>
<text transform="translate(612.07,329.62) scale(0.939,1)" font-size="8.33" font-weight="bold" fill="#111" stroke="#111" stroke-width="0.3" letter-spacing="0.45">DxE: 0.004</text>
<rect x="581.60" y="3.70" width="54.80" height="52.00" fill="#fff" stroke="#2a2a2a" stroke-width="1.1"/>
<rect x="587.35" y="13.05" width="12.20" height="6.20" fill="#fff" stroke="#111" stroke-width="1.5"/>
<rect x="587.10" y="28.80" width="12.80" height="6.10" fill="#a4a3a8" stroke="#7f7f82" stroke-width="1.0"/>
<rect x="586.80" y="43.70" width="13.40" height="7.00" fill="#000"/>
<text transform="translate(608.19,21.00) scale(0.853,1)" font-size="11.49" font-weight="normal" fill="#1a1a1a" stroke="#1a1a1a" stroke-width="0.25">REF</text>
<text transform="translate(607.80,36.69) scale(0.941,1)" font-size="10.60" font-weight="normal" fill="#1a1a1a" stroke="#1a1a1a" stroke-width="0.25">C10</text>
<text transform="translate(607.82,51.39) scale(0.906,1)" font-size="10.60" font-weight="normal" fill="#1a1a1a" stroke="#1a1a1a" stroke-width="0.25">CH</text>
</svg>
</body></html>
